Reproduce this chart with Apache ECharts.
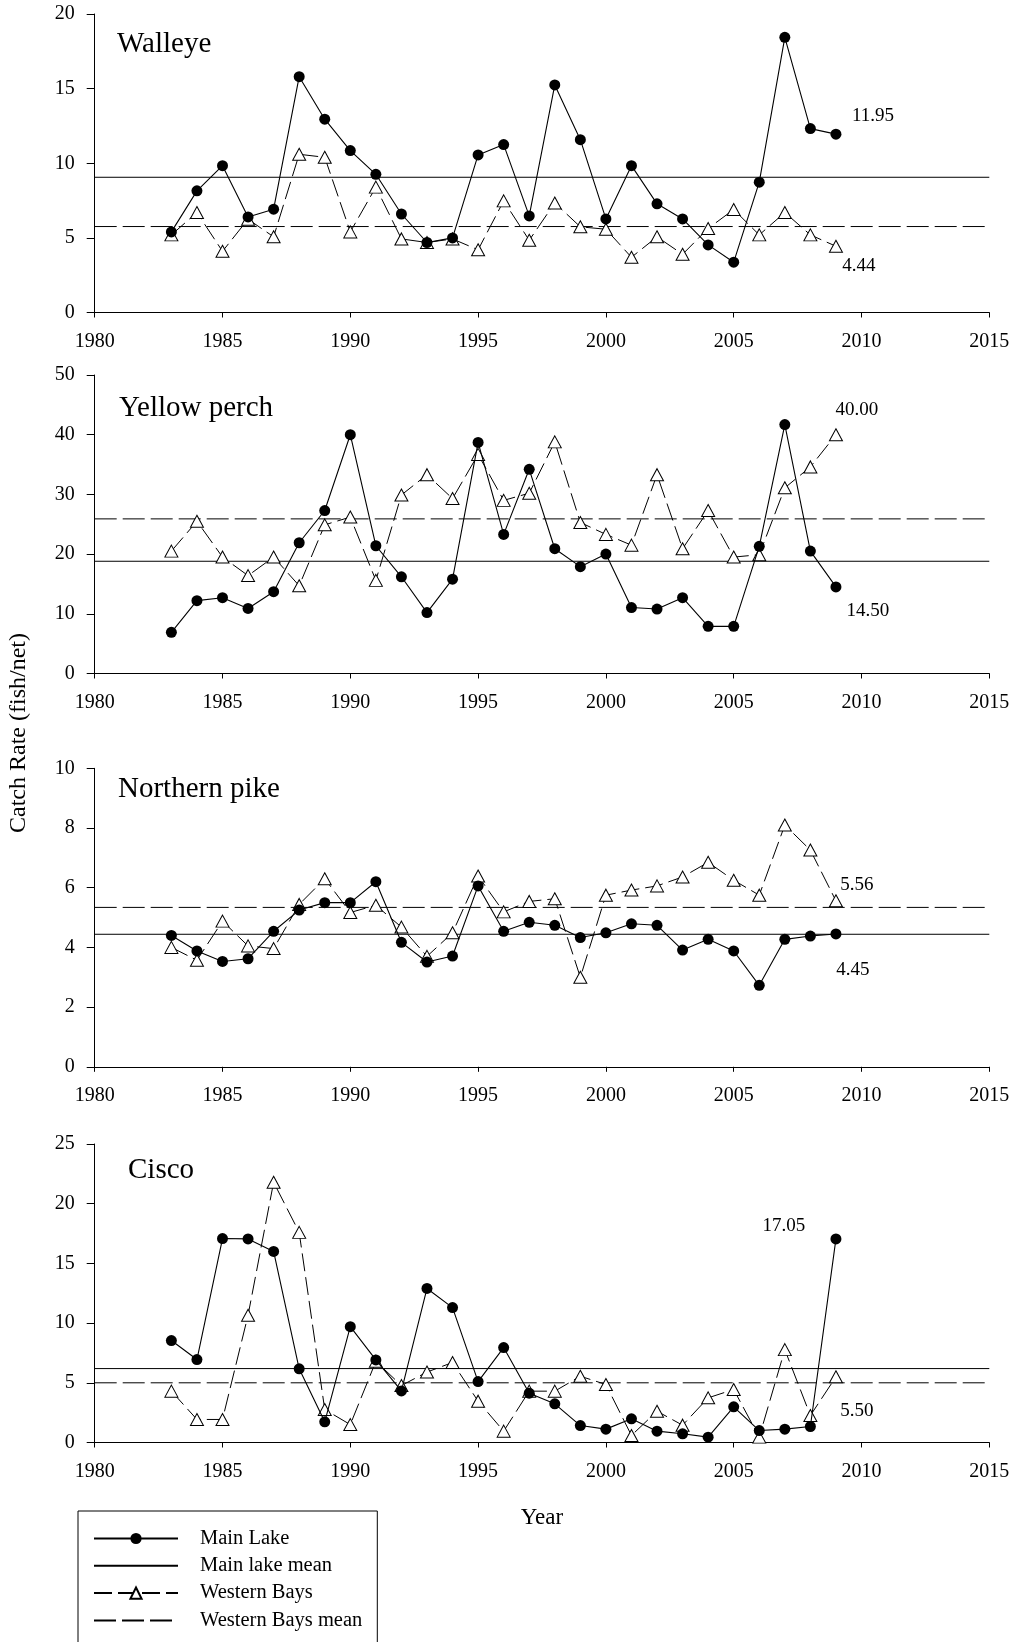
<!DOCTYPE html>
<html>
<head>
<meta charset="utf-8">
<script src="https://cdn.jsdelivr.net/npm/echarts@6/dist/echarts.min.js"></script>
<style>
  html, body { margin: 0; padding: 0; background: #fff; }
  #chart { width: 1016px; height: 1642px; }
</style>
</head>
<body>
<div id="chart"></div>
<script>
// Gill-net catch rates (fish/net), 1983-2009
const years = [1983, 1984, 1985, 1986, 1987, 1988, 1989, 1990, 1991, 1992, 1993, 1994, 1995,
  1996, 1997, 1998, 1999, 2000, 2001, 2002, 2003, 2004, 2005, 2006, 2007, 2008, 2009];

const walleyeMain = [5.4, 8.15, 9.84, 6.4, 6.92, 15.8, 12.95, 10.85, 9.26, 6.6, 4.69, 5.0, 10.56,
  11.25, 6.47, 15.25, 11.58, 6.27, 9.84, 7.28, 6.27, 4.53, 3.37, 8.73, 18.44, 12.32, 11.95];
const walleyeWest = [5.2, 6.7, 4.1, 6.25, 5.07, 10.6, 10.4, 5.4, 8.4, 4.93, 4.69, 4.93, 4.2,
  7.48, 4.84, 7.34, 5.74, 5.58, 3.7, 5.07, 3.9, 5.63, 6.9, 5.2, 6.7, 5.2, 4.44];

const perchMain = [6.9, 12.2, 12.7, 10.9, 13.7, 21.9, 27.3, 40.0, 21.4, 16.2, 10.2, 15.8, 38.7,
  23.3, 34.2, 20.9, 17.9, 20.0, 11.05, 10.8, 12.7, 7.9, 7.9, 21.3, 41.7, 20.5, 14.5];
const perchWest = [20.5, 25.5, 19.5, 16.4, 19.5, 14.7, 24.9, 26.2, 15.6, 29.9, 33.3, 29.3, 36.7,
  29.0, 30.2, 38.8, 25.3, 23.3, 21.5, 33.3, 20.9, 27.3, 19.5, 19.9, 31.1, 34.6, 40.0];

const pikeMain = [4.40, 3.88, 3.53, 3.62, 4.54, 5.25, 5.5, 5.5, 6.2, 4.17, 3.51, 3.71, 6.06,
  4.54, 4.84, 4.74, 4.33, 4.49, 4.79, 4.74, 3.91, 4.27, 3.88, 2.73, 4.27, 4.38, 4.45];
const pikeWest = [4.0, 3.57, 4.88, 4.05, 3.96, 5.44, 6.3, 5.17, 5.41, 4.68, 3.7, 4.49, 6.39,
  5.19, 5.54, 5.63, 3.0, 5.75, 5.92, 6.06, 6.36, 6.85, 6.25, 5.75, 8.1, 7.26, 5.56];

const ciscoMain = [8.54, 6.95, 17.08, 17.05, 16.0, 6.17, 1.73, 9.7, 6.92, 4.32, 12.9, 11.3, 5.1,
  7.95, 4.13, 3.24, 1.42, 1.12, 1.98, 0.95, 0.73, 0.45, 2.99, 1.0, 1.12, 1.34, 17.05];
const ciscoWest = [4.3, 1.93, 1.93, 10.66, 21.8, 17.6, 2.76, 1.5, 6.8, 4.77, 5.9, 6.7, 3.46,
  0.95, 4.3, 4.3, 5.55, 4.86, 0.59, 2.62, 1.45, 3.74, 4.44, 0.45, 7.78, 2.26, 5.5];

// Long-term means
const mainMeans = [9.06, 18.8, 4.44, 6.19];
const westMeans = [5.76, 25.9, 5.34, 5.0];

const speciesNames = ['Walleye', 'Yellow perch', 'Northern pike', 'Cisco'];
const yMax = [20, 50, 10, 25];
const yStep = [5, 10, 2, 5];
const xTicks = [1980, 2015, 5];

const mainSets = [walleyeMain, perchMain, pikeMain, ciscoMain];
const westSets = [walleyeWest, perchWest, pikeWest, ciscoWest];

// offsets of the final-year value labels [main, west]
const endLabelOffsets = [
  [[37, -18], [23, 20]],
  [[32, 24], [21, -25]],
  [[17, 36], [21, -16]],
  [[-52, -13], [21, 34]]
];

const FONT = '"Liberation Serif", "Times New Roman", serif';
const gridTops = [14, 375, 768.3, 1144];
const gridH = 298.5;
const titlePos = [[117, 44], [119, 407.5], [118, 788.6], [128, 1170]];

const grids = [], xAxes = [], yAxes = [], series = [], graphics = [];

function withEndLabel(vals, offset) {
  return vals.map((v, i) => {
    const item = { value: [years[i], v] };
    if (i === vals.length - 1) {
      item.label = {
        show: true, position: 'inside', offset: offset,
        formatter: (p) => p.value[1].toFixed(2),
        fontFamily: FONT, fontSize: 19, color: '#000'
      };
    }
    return item;
  });
}

for (let k = 0; k < 4; k++) {
  grids.push({ left: 94.7, width: 894.6, top: gridTops[k], height: gridH });
  xAxes.push({
    type: 'value', gridIndex: k, min: xTicks[0], max: xTicks[1], interval: xTicks[2],
    axisLine: { show: true, onZero: false, lineStyle: { color: '#000', width: 1 } },
    axisTick: { show: true, length: 5, lineStyle: { color: '#000', width: 1 } },
    axisLabel: { color: '#000', fontFamily: FONT, fontSize: 20, margin: 19, formatter: (v) => String(v) },
    splitLine: { show: false },
    name: k === 3 ? 'Year' : '',
    nameLocation: 'middle', nameGap: 64,
    nameTextStyle: { color: '#000', fontFamily: FONT, fontSize: 23 }
  });
  yAxes.push({
    type: 'value', gridIndex: k, min: 0, max: yMax[k], interval: yStep[k],
    axisLine: { show: true, onZero: false, lineStyle: { color: '#000', width: 1 } },
    axisTick: { show: true, length: 8, lineStyle: { color: '#000', width: 1 } },
    axisLabel: { color: '#000', fontFamily: FONT, fontSize: 20, margin: 20 },
    splitLine: { show: false }
  });

  series.push({
    name: 'Western Bays mean', type: 'line', xAxisIndex: k, yAxisIndex: k,
    data: [[xTicks[0], westMeans[k]], [xTicks[1], westMeans[k]]],
    symbol: 'none', z: 1,
    lineStyle: { color: '#000', width: 1, type: [22, 6] },
    itemStyle: { color: '#000' }
  });
  series.push({
    name: 'Main lake mean', type: 'line', xAxisIndex: k, yAxisIndex: k,
    data: [[xTicks[0], mainMeans[k]], [xTicks[1], mainMeans[k]]],
    symbol: 'none', z: 1,
    lineStyle: { color: '#000', width: 1 },
    itemStyle: { color: '#000' }
  });
  series.push({
    name: 'Western Bays', type: 'line', xAxisIndex: k, yAxisIndex: k,
    data: withEndLabel(westSets[k], endLabelOffsets[k][1]),
    symbol: 'triangle', symbolSize: [13, 12], z: 2,
    lineStyle: { color: '#000', width: 1, type: [18, 6] },
    itemStyle: { color: '#fff', borderColor: '#000', borderWidth: 1 }
  });
  series.push({
    name: 'Main Lake', type: 'line', xAxisIndex: k, yAxisIndex: k,
    data: withEndLabel(mainSets[k], endLabelOffsets[k][0]),
    symbol: 'circle', symbolSize: 11, z: 3,
    lineStyle: { color: '#000', width: 1.1 },
    itemStyle: { color: '#000' }
  });

  graphics.push({
    type: 'text', left: titlePos[k][0], top: titlePos[k][1] - 14,
    style: { text: speciesNames[k], font: '29px ' + FONT, fill: '#000' }
  });
}

graphics.push({
  type: 'text', x: 19, y: 733, rotation: Math.PI / 2,
  style: {
    text: 'Catch Rate (fish/net)', font: '24px ' + FONT, fill: '#000',
    align: 'center', verticalAlign: 'middle'
  }
});

const chart = echarts.init(document.getElementById('chart'), null, { renderer: 'canvas' });
chart.setOption({
  animation: false,
  backgroundColor: '#fff',
  grid: grids,
  xAxis: xAxes,
  yAxis: yAxes,
  series: series,
  graphic: graphics,
  legend: {
    orient: 'vertical', left: 78, top: 1511, height: 200,
    padding: [17, 15, 17, 15],
    itemWidth: 84, itemHeight: 14, itemGap: 6.3,
    selectedMode: false,
    borderColor: '#000', borderWidth: 1, backgroundColor: '#fff',
    textStyle: { color: '#000', fontFamily: FONT, fontSize: 20.5, lineHeight: 20, padding: [0, 0, 0, 17] },
    data: [
      { name: 'Main Lake' },
      { name: 'Main lake mean', itemStyle: { opacity: 0 } },
      { name: 'Western Bays' },
      { name: 'Western Bays mean', itemStyle: { opacity: 0 } }
    ]
  }
});
</script>
</body>
</html>
